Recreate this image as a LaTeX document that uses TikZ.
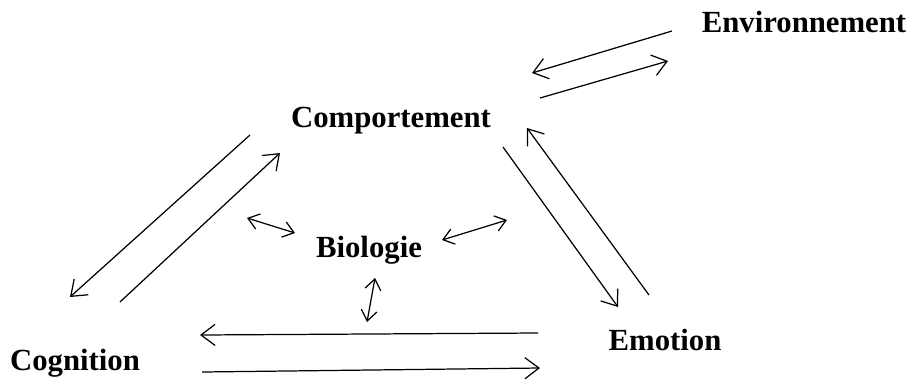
\documentclass[tikz,border=0pt]{standalone}
\usepackage{fontspec}
\setmainfont{Liberation Serif}
\usetikzlibrary{arrows.meta,positioning}

\begin{document}
\begin{tikzpicture}[x=0.02cm,y=-0.02cm,
  lbl/.style={font=\fontsize{17.5}{20}\selectfont\bfseries,inner sep=0pt,anchor=base},
  arr/.style={line width=0.7pt,-{Straight Barb[length=8pt,width=12pt]}},
  dbl/.style={line width=0.7pt,{Straight Barb[length=6pt,width=9pt]}-{Straight Barb[length=6pt,width=9pt]}}]
  \useasboundingbox (0,0) rectangle (912,383);
  % labels
  \node[lbl] (env) at (804,32) {Environnement};
  \node[lbl] (comp) at (391,127) {Comportement};
  \node[lbl] (bio) at (369,257) {Biologie};
  \node[lbl] (cog) at (75,370) {Cognition};
  \node[lbl] (emo) at (665,350) {Emotion};

  % arrow ends
  \coordinate (envA) at (672,31);  \coordinate (compA) at (532,73);
  \coordinate (compB) at (540,98); \coordinate (envB) at (668,61);
  \coordinate (compC) at (250,135); \coordinate (cogC) at (70,297);
  \coordinate (cogD) at (120,302); \coordinate (compD) at (280,153);
  \coordinate (compE) at (503,147); \coordinate (emoE) at (618,307);
  \coordinate (emoF) at (649,295); \coordinate (compF) at (527,128);
  \coordinate (emoG) at (538,333); \coordinate (cogG) at (200,335);
  \coordinate (cogH) at (202,372); \coordinate (emoH) at (540,368);
  \coordinate (bioL1) at (247,218); \coordinate (bioL2) at (295,233);
  \coordinate (bioR1) at (442,240); \coordinate (bioR2) at (507,220);
  \coordinate (bioB1) at (375,278); \coordinate (bioB2) at (367,322);

  \draw[arr] (envA) -- (compA);
  \draw[arr] (compB) -- (envB);
  \draw[arr] (compC) -- (cogC);
  \draw[arr] (cogD) -- (compD);
  \draw[arr] (compE) -- (emoE);
  \draw[arr] (emoF) -- (compF);
  \draw[arr] (emoG) -- (cogG);
  \draw[arr] (cogH) -- (emoH);
  \draw[dbl] (bioL1) -- (bioL2);
  \draw[dbl] (bioR1) -- (bioR2);
  \draw[dbl] (bioB1) -- (bioB2);
\end{tikzpicture}
\end{document}
